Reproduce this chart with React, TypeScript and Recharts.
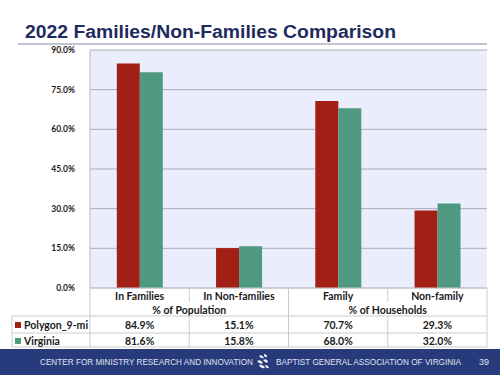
import React from 'react';
import { BarChart, Bar, XAxis, YAxis, CartesianGrid } from 'recharts';

const categories = ['In Families', 'In Non-families', 'Family', 'Non-family'];
const groupLabels = ['% of Population', '% of Households'];
const polygonValues = [84.9, 15.1, 70.7, 29.3];
const virginiaValues = [81.6, 15.8, 68.0, 32.0];
const yTicks = [0, 15, 30, 45, 60, 75, 90];
const seriesNames = ['Polygon_9-mi', 'Virginia'];

const RED = '#A21F16';
const GREEN = '#4F9882';
const LINE = '#C9CBD0';
const TEXT_FONT = 'Lato, "Open Sans", sans-serif';

const PLOT_LEFT = 90;
const PLOT_RIGHT = 487;
const PLOT_BOTTOM = 288;
const COL = (PLOT_RIGHT - PLOT_LEFT) / categories.length;

const data = categories.map((name, i) => ({
  name,
  polygon: polygonValues[i],
  virginia: virginiaValues[i],
}));

// rows of the data table under the axis
const ROW_CAT = 295.5;
const ROW_GROUP = 309.5;
const ROW_A = 325;
const ROW_B = 341;
const LINE_A = 316;
const LINE_B = 333;
const LINE_END = 347;

function TableTick(props: any) {
  const { x, index } = props;
  const left = x - COL / 2;
  const right = x + COL / 2;
  const txt = { fontFamily: TEXT_FONT, fontSize: 10.5, fontWeight: 700, fill: '#1a1a1a', textAnchor: 'middle' as const, dominantBaseline: 'central' as const };
  const groupEnd = index % 2 === 1;
  return (
    <g>
      <text x={x} y={ROW_CAT} {...txt}>{categories[index]}</text>
      <text x={x} y={ROW_A} {...txt}>{polygonValues[index].toFixed(1)}%</text>
      <text x={x} y={ROW_B} {...txt}>{virginiaValues[index].toFixed(1)}%</text>
      {index % 2 === 0 && (
        <text x={right} y={ROW_GROUP} {...txt}>{groupLabels[index / 2]}</text>
      )}
      {groupEnd ? (
        <line x1={right} x2={right} y1={PLOT_BOTTOM} y2={LINE_END} stroke={LINE} />
      ) : (
        <>
          <line x1={right} x2={right} y1={PLOT_BOTTOM} y2={302} stroke={LINE} />
          <line x1={right} x2={right} y1={LINE_A} y2={LINE_END} stroke={LINE} />
        </>
      )}
      {[LINE_A, LINE_B, LINE_END].map((ly) => (
        <line key={ly} x1={left} x2={right} y1={ly} y2={ly} stroke={LINE} />
      ))}
      {index === 0 && (
        <g>
          <line x1={left} x2={left} y1={PLOT_BOTTOM} y2={LINE_END} stroke={LINE} />
          <line x1={12} x2={12} y1={LINE_A} y2={LINE_END} stroke={LINE} />
          {[LINE_A, LINE_B, LINE_END].map((ly) => (
            <line key={ly} x1={12} x2={left} y1={ly} y2={ly} stroke={LINE} />
          ))}
          <rect x={15} y={ROW_A - 3} width={6} height={6} fill={RED} />
          <rect x={15} y={ROW_B - 3} width={6} height={6} fill={GREEN} />
          <text x={24} y={ROW_A} {...txt} textAnchor="start">{seriesNames[0]}</text>
          <text x={24} y={ROW_B} {...txt} textAnchor="start">{seriesNames[1]}</text>
        </g>
      )}
    </g>
  );
}

function Footer() {
  const t = { fontFamily: '"Liberation Sans", Arial, sans-serif', fontSize: 8.4, fill: '#E0E3EE', dominantBaseline: 'central' as const };
  return (
    <svg width={500} height={26} style={{ position: 'absolute', left: 0, top: 349, display: 'block' }}>
      <rect x={0} y={0} width={500} height={26} fill="#263A7C" />
      <text x={40} y={13} {...t} textLength={213} lengthAdjust="spacingAndGlyphs">CENTER FOR MINISTRY  RESEARCH AND INNOVATION</text>
      <g fill="#F0F2F8">
        <path d="M259 7 q3 -2 5 2 q-3 1 -5 -2z" />
        <path d="M264 5 q3 0 3 3 q-3 1 -3 -3z" />
        <path d="M257 12 q4 -2 6 2 q-3 2 -6 -2z" />
        <path d="M263 11 q4 -2 5 2 q-2 2 -5 -2z" />
        <path d="M259 16 q4 -1 6 3 q-4 1 -6 -3z" />
        <path d="M265 16 q3 0 4 3 q-3 1 -4 -3z" />
      </g>
      <text x={276} y={13} {...t} textLength={185} lengthAdjust="spacingAndGlyphs">BAPTIST  GENERAL ASSOCIATION  OF VIRGINIA</text>
      <text x={479} y={13} {...t} textLength={10} lengthAdjust="spacingAndGlyphs">39</text>
    </svg>
  );
}

export default function App() {
  return (
    <div style={{ position: 'absolute', left: 0, top: 0, width: 500, height: 375, background: '#FFFFFF', overflow: 'hidden' }}>
      <svg width={500} height={46} style={{ position: 'absolute', left: 0, top: 0, display: 'block' }}>
        <text
          x={25}
          y={37.5}
          fontFamily='"Liberation Sans", Arial, sans-serif'
          fontWeight={700}
          fontSize={18}
          fill="#1F2B5E"
          textLength={371}
          lengthAdjust="spacingAndGlyphs"
        >
          2022 Families/Non-Families Comparison
        </text>
        <rect x={18} y={43} width={469} height={2} fill="#BFC6D2" />
      </svg>
      <div style={{ position: 'absolute', left: 0, top: 0 }}>
        <BarChart
          width={500}
          height={375}
          data={data}
          margin={{ top: 50, right: 500 - PLOT_RIGHT, bottom: 27, left: 0 }}
          barCategoryGap="27%"
          barGap={0}
        >
          <CartesianGrid vertical={false} stroke="#A9ADBA" fill="#EAEDFB" />
          <XAxis
            dataKey="name"
            height={60}
            axisLine={{ stroke: LINE }}
            tickLine={false}
            interval={0}
            tick={<TableTick />}
          />
          <YAxis
            width={PLOT_LEFT}
            domain={[0, 90]}
            ticks={yTicks}
            interval={0}
            tickFormatter={(v: number) => `${v.toFixed(1)}%`}
            axisLine={{ stroke: '#B5B8C2' }}
            tickLine={false}
            tickMargin={9}
            tick={{ fontFamily: TEXT_FONT, fontSize: 8.5, fontWeight: 700, fill: '#1a1a1a' }}
          />
          <Bar dataKey="polygon" name={seriesNames[0]} fill={RED} isAnimationActive={false} />
          <Bar dataKey="virginia" name={seriesNames[1]} fill={GREEN} isAnimationActive={false} />
        </BarChart>
      </div>
      <Footer />
    </div>
  );
}
